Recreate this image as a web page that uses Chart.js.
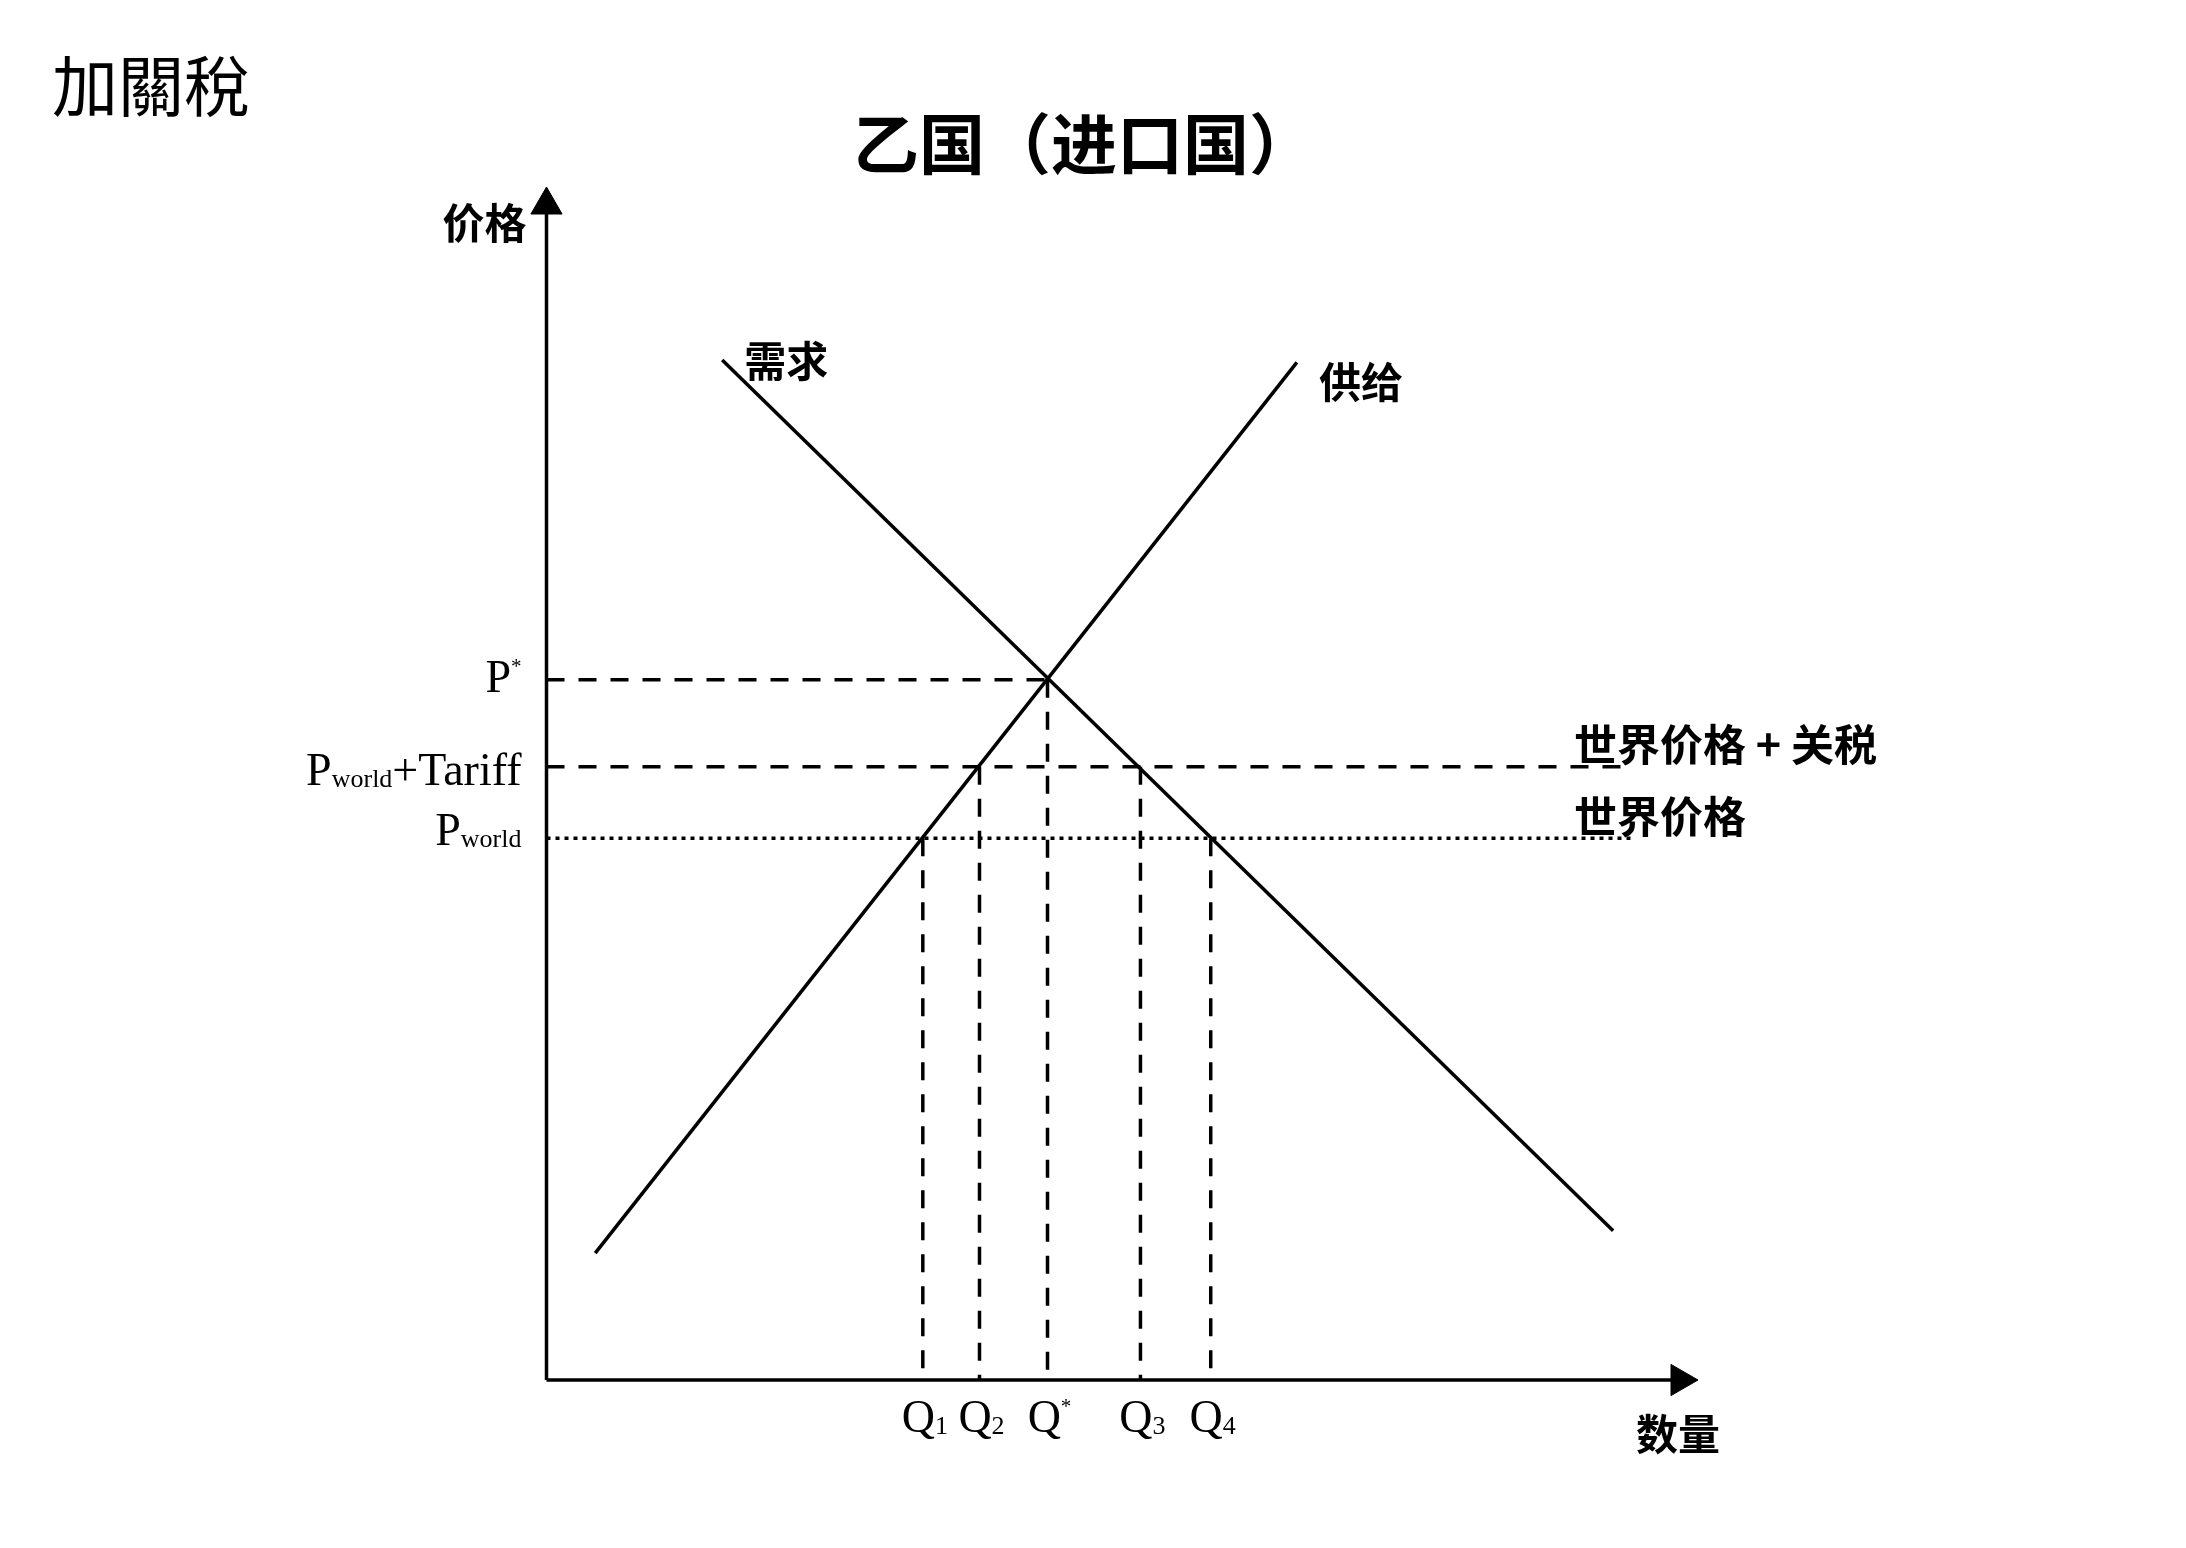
<!DOCTYPE html>
<html lang="zh">
<head>
<meta charset="utf-8">
<title>加關稅</title>
<script src="https://cdn.jsdelivr.net/npm/chart.js@4.4.1/dist/chart.umd.min.js"></script>
<style>
    html, body { margin: 0; padding: 0; background: #fff; }
    canvas { display: block; }
</style>
</head>
<body>
<canvas id="tariff-chart" width="2186" height="1548"></canvas>
<script>
// values in arbitrary units (origin of the axes = 0)
const axisMax = 100;

const demandX = [15.5, 94.1];
const demandY = [86.8, 12.7];
const supplyX = [4.3, 66.2];
const supplyY = [10.8, 86.6];

// price levels: P*, Pworld+Tariff, Pworld
const priceLabels = ['P^*', 'P_world+Tariff', 'P_world'];
const priceValues = [59.6, 52.2, 46.1];
const worldLineEnd = 95.8;

// quantities and the price each drop line starts from
const qtyLabels = ['Q_1', 'Q_2', 'Q^*', 'Q_3', 'Q_4'];
const qtyValues = [33.2, 38.2, 44.2, 52.4, 58.6];
const qtyPrices = [46.1, 52.2, 59.6, 52.2, 46.1];

const INK = '#000';
const DASH = [18, 14];
const DOT = [4, 5];

const pts = (xs, ys) => xs.map((x, i) => ({ x: x, y: ys[i] }));

const segment = (data, extra) => Object.assign({
    data: data,
    showLine: true,
    borderColor: INK,
    borderWidth: 3.5,
    pointRadius: 0,
    clip: false,
}, extra);

const datasets = [
    // axes, the arrow heads are triangle points at the far end
    segment(pts([0, axisMax], [0, 0]), {
        pointRadius: [0, 18], pointStyle: 'triangle', pointRotation: 90,
        pointBackgroundColor: INK, pointBorderColor: INK, pointBorderWidth: 1
    }),
    segment(pts([0, 0], [0, axisMax]), {
        pointRadius: [0, 18], pointStyle: 'triangle', pointRotation: 0,
        pointBackgroundColor: INK, pointBorderColor: INK, pointBorderWidth: 1
    }),
    segment(pts(demandX, demandY)),
    segment(pts(supplyX, supplyY)),
    segment(pts([0, qtyValues[2]], [priceValues[0], priceValues[0]]), { borderDash: DASH }),
    segment(pts([0, worldLineEnd], [priceValues[1], priceValues[1]]), { borderDash: DASH }),
    segment(pts([0, worldLineEnd], [priceValues[2], priceValues[2]]), { borderDash: DOT }),
];
qtyValues.forEach((q, i) => {
    datasets.push(segment(pts([q, q], [qtyPrices[i], 0]), { borderDash: DASH }));
});

// split 'P_world+Tariff' / 'Q^*' into normal, sub and sup pieces
function parseLabel(str) {
    const parts = [];
    const re = /_([a-z0-9]+)|\^(\S)|([^_^]+)/g;
    let m;
    while ((m = re.exec(str)) !== null) {
        if (m[1]) parts.push({ t: m[1], kind: 'sub' });
        else if (m[2]) parts.push({ t: m[2], kind: 'sup' });
        else parts.push({ t: m[3], kind: 'main' });
    }
    return parts;
}

const SERIF = '"Liberation Serif", "DejaVu Serif", serif';
const partFont = { main: `46px ${SERIF}`, sub: `26px ${SERIF}`, sup: `21px ${SERIF}` };
const partShift = { main: 0, sub: 2, sup: -19 };

function drawSerif(ctx, str, px, baseline, align) {
    const parts = parseLabel(str);
    let total = 0;
    parts.forEach(p => {
        ctx.font = partFont[p.kind];
        p.w = ctx.measureText(p.t).width;
        total += p.w;
    });
    let cx = align === 'right' ? px - total : px - total / 2;
    ctx.textAlign = 'left';
    ctx.textBaseline = 'alphabetic';
    parts.forEach(p => {
        ctx.font = partFont[p.kind];
        ctx.fillText(p.t, cx, baseline + partShift[p.kind]);
        cx += p.w;
    });
}

function drawCJK(ctx, text, px, py, size, align, weight, family) {
    ctx.font = `${weight} ${size}px "${family || 'Noto Sans CJK SC'}"`;
    ctx.textAlign = align;
    ctx.textBaseline = 'middle';
    ctx.fillText(text, px, py);
}

const labelPlugin = {
    id: 'diagramLabels',
    afterDatasetsDraw(chart) {
        const { ctx } = chart;
        const xs = chart.scales.x;
        const ys = chart.scales.y;
        ctx.save();
        ctx.fillStyle = INK;

        drawCJK(ctx, '加關稅', 52, 86, 66, 'left', 'normal', 'Noto Sans CJK TC');
        drawCJK(ctx, '乙国（进口国）', 1084, 144, 66, 'center', 'bold');

        const x0 = xs.getPixelForValue(0);
        const y0 = ys.getPixelForValue(0);
        drawCJK(ctx, '价格', x0 - 20, 223, 42, 'right', 'bold');
        drawCJK(ctx, '数量', 1636, y0 + 54, 42, 'left', 'bold');

        drawCJK(ctx, '需求', xs.getPixelForValue(demandX[0]) + 22, ys.getPixelForValue(demandY[0]) + 1, 42, 'left', 'bold');
        drawCJK(ctx, '供给', xs.getPixelForValue(supplyX[1]) + 22, ys.getPixelForValue(supplyY[1]) + 20, 42, 'left', 'bold');

        drawCJK(ctx, '世界价格 + 关税', 1574, ys.getPixelForValue(priceValues[1]) - 22, 43, 'left', 'bold');
        drawCJK(ctx, '世界价格', 1574, ys.getPixelForValue(priceValues[2]) - 22, 43, 'left', 'bold');

        const priceBaseline = [12, 18, 7];
        priceLabels.forEach((lbl, i) => {
            drawSerif(ctx, lbl, x0 - 25, ys.getPixelForValue(priceValues[i]) + priceBaseline[i], 'right');
        });
        qtyLabels.forEach((lbl, i) => {
            drawSerif(ctx, lbl, xs.getPixelForValue(qtyValues[i]) + 2, y0 + 52, 'center');
        });
        ctx.restore();
    }
};

new Chart(document.getElementById('tariff-chart').getContext('2d'), {
    type: 'scatter',
    data: { datasets: datasets },
    options: {
        responsive: false,
        animation: false,
        devicePixelRatio: 1,
        layout: { padding: { left: 546.5, right: 506, top: 205, bottom: 168 } },
        scales: {
            x: { type: 'linear', min: 0, max: axisMax, display: false },
            y: { type: 'linear', min: 0, max: axisMax, display: false }
        },
        elements: { line: { tension: 0 } },
        plugins: { legend: { display: false }, tooltip: { enabled: false } }
    },
    plugins: [labelPlugin]
});
</script>
</body>
</html>
